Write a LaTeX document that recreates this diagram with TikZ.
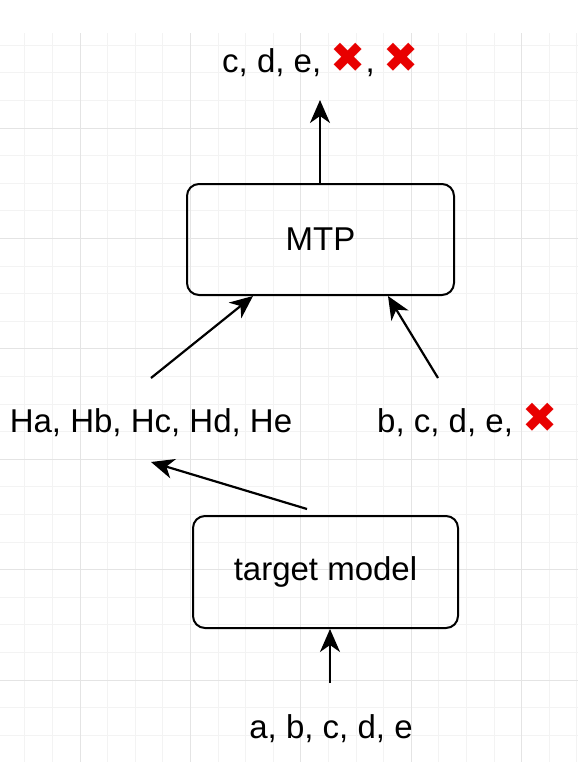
\documentclass[tikz,border=0pt]{standalone}
\usepackage{fontspec}
\setmainfont{Liberation Sans}
\newfontfamily\symfont{DejaVu Sans}
\usepackage{tikz}
\usetikzlibrary{arrows.meta,positioning}
\definecolor{gridminor}{RGB}{243,243,243}
\definecolor{gridmajor}{RGB}{228,228,228}
\definecolor{crossred}{RGB}{232,0,0}
\newcommand{\nope}{{\symfont\fontsize{42}{46}\selectfont\color{crossred}✖}}
\tikzstyle{block} = [rectangle, draw=black, line width=2pt, rounded corners=12pt, minimum width=267pt, minimum height=111pt, font=\fontsize{33}{40}\selectfont]
\tikzstyle{seq} = [inner sep=0pt, anchor=base, font=\fontsize{33}{40}\selectfont]
\tikzstyle{tedge} = [draw, line width=2.2pt, -{Stealth[length=23pt,width=20pt,inset=7pt]}]
\begin{document}
\begin{tikzpicture}[x=1pt,y=-1pt]
\useasboundingbox (0,0) rectangle (578,780);

% grid ===================================
\foreach \i in {-2,...,18} \draw[gridminor, line width=0.8pt] (80+27.6*\i,33) -- (80+27.6*\i,762);
\foreach \j in {-3,...,22} \draw[gridminor, line width=0.8pt] (0,128+27.6*\j) -- (578,128+27.6*\j);
\foreach \i in {0,...,4} \draw[gridmajor, line width=0.8pt] (80+110.4*\i,33) -- (80+110.4*\i,762);
\foreach \j in {0,...,5} \draw[gridmajor, line width=0.8pt] (0,128+110.4*\j) -- (578,128+110.4*\j);

% blocks
\node[block] (mtp) at (320.5,239.5) {MTP};
\node[block, minimum width=265pt, minimum height=112pt] (target) at (325.5,572) {target model};

% token rows
\node[seq, anchor=base west] (out) at (222,72) {c, d, e, \nope, \nope};
\node[seq] (hid) at (151,432) {Ha, Hb, Hc, Hd, He};
\node[seq, anchor=base west] (next) at (377,432) {b, c, d, e, \nope};
\node[seq] (inp) at (331,738) {a, b, c, d, e};

% free arrow ends
\coordinate (outtip) at (320,100);
\coordinate (hidup) at (151,378);
\coordinate (nextup) at (438,378);
\coordinate (tgtout) at (307,509);
\coordinate (hidin) at (151,462);
\coordinate (inpup) at (330,683);

% edges
\path[tedge] (inpup) -- (inpup |- target.south);
\path[tedge] (tgtout) -- (hidin);
\path[tedge] (hidup) -- ([xshift=-67.5pt]mtp.south);
\path[tedge] (nextup) -- ([xshift=67.5pt]mtp.south);
\path[tedge] (outtip |- mtp.north) -- (outtip);

\end{tikzpicture}
\end{document}
